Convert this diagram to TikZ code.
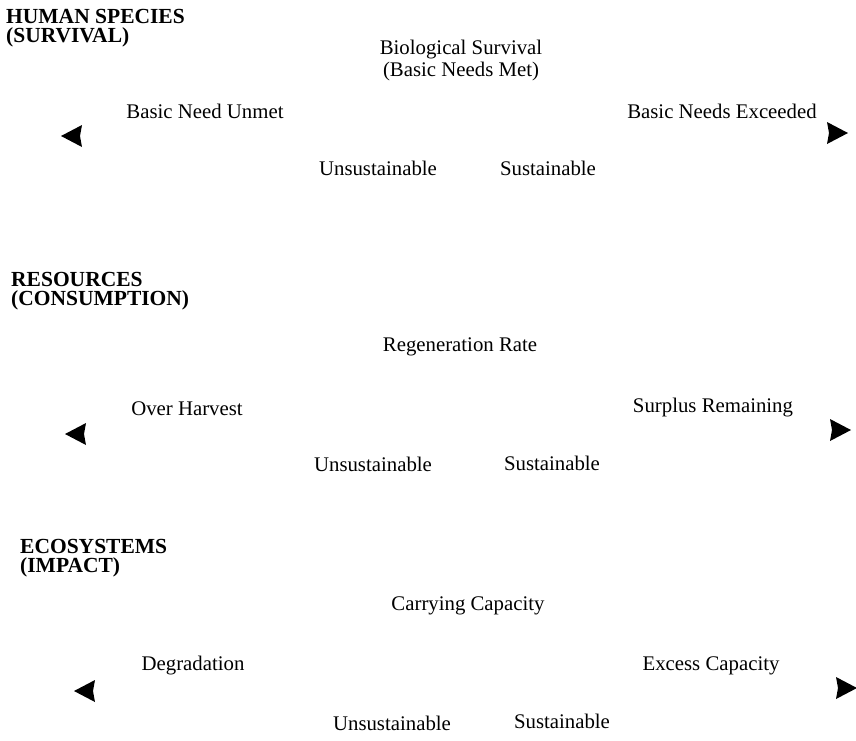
\documentclass[tikz,border=0pt]{standalone}
\usepackage{fontspec}
\setmainfont{Liberation Serif}
\begin{document}
\begin{tikzpicture}[x=1pt,y=-1pt,
  lbl/.style={inner sep=0pt, font=\fontsize{20.8}{22}\selectfont},
  hdr/.style={inner sep=0pt, anchor=north west, align=left, font=\fontsize{21.5}{19.5}\selectfont\bfseries},
  tipleft/.style={fill=black},
  tipright/.style={fill=black}]
\useasboundingbox (0,0) rectangle (856,740);
\fill[white] (0,0) rectangle (856,740);

% ---- Section 1: Human species
\node[hdr] (h1) at (6,9) {HUMAN SPECIES\\(SURVIVAL)};
\node[lbl] (bio1) at (461,50) {Biological Survival};
\node[lbl] (bio2) at (461,71) {(Basic Needs Met)};
\node[lbl] (l1) at (205,111) {Basic Need Unmet};
\node[lbl] (r1) at (722,111) {Basic Needs Exceeded};
\node[lbl] (u1) at (378,168) {Unsustainable};
\node[lbl] (s1) at (548,168) {Sustainable};
\coordinate (al1) at (72,136);
\coordinate (ar1) at (837,133);

% ---- Section 2: Resources
\node[hdr] (h2) at (11,272) {RESOURCES\\(CONSUMPTION)};
\node[lbl] (reg) at (460,347) {Regeneration Rate};
\node[lbl] (l2) at (187,409) {Over Harvest};
\node[lbl] (r2) at (713,408) {Surplus Remaining};
\node[lbl] (u2) at (373,464) {Unsustainable};
\node[lbl] (s2) at (552,463) {Sustainable};
\coordinate (al2) at (76,434);
\coordinate (ar2) at (840,430);

% ---- Section 3: Ecosystems
\node[hdr] (h3) at (20,539) {ECOSYSTEMS\\(IMPACT)};
\node[lbl] (cc) at (468,606) {Carrying Capacity};
\node[lbl] (l3) at (193,666) {Degradation};
\node[lbl] (r3) at (711,666) {Excess Capacity};
\node[lbl] (u3) at (392,723) {Unsustainable};
\node[lbl] (s3) at (562,721) {Sustainable};
\coordinate (al3) at (85,691);
\coordinate (ar3) at (846,688);

% ---- arrowheads
\foreach \c in {al1,al2,al3}{
  \fill[tipleft] ([xshift=-11pt]\c) -- ([xshift=10pt,yshift=-11pt]\c) -- ([xshift=8pt]\c) -- ([xshift=10pt,yshift=11pt]\c) -- cycle;
}
\foreach \c in {ar1,ar2,ar3}{
  \fill[tipright] ([xshift=11pt]\c) -- ([xshift=-10pt,yshift=-11pt]\c) -- ([xshift=-8pt]\c) -- ([xshift=-10pt,yshift=11pt]\c) -- cycle;
}
\end{tikzpicture}
\end{document}
